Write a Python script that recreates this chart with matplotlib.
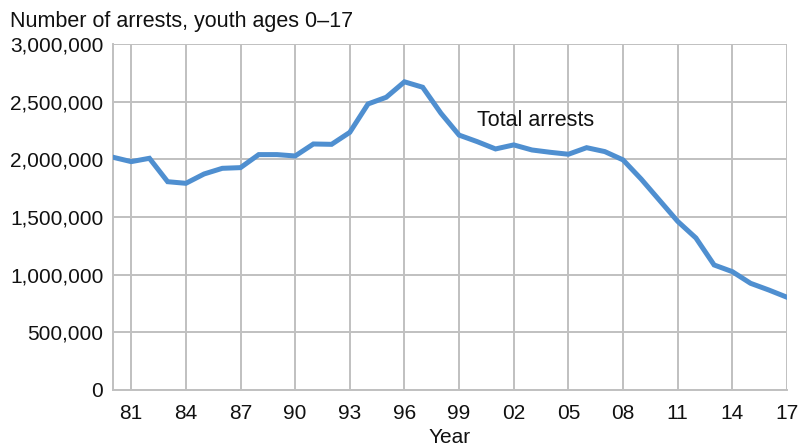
import numpy as np
import matplotlib.pyplot as plt
from matplotlib.ticker import FuncFormatter

plt.rcParams['font.family'] = ['Liberation Sans', 'DejaVu Sans']

# Data
years = np.arange(1980, 2018)
arrests = [2018000, 1980000, 2009000, 1806000, 1792000, 1873000, 1922000, 1928000,
           2041000, 2041000, 2029000, 2133000, 2130000, 2234000, 2480000, 2538000,
           2672000, 2625000, 2400000, 2210000, 2153000, 2090000, 2125000, 2081000,
           2061000, 2044000, 2101000, 2067000, 1995000, 1828000, 1645000, 1462000,
           1318000, 1084000, 1026000, 925000, 867000, 804000]
tick_years = [1981, 1984, 1987, 1990, 1993, 1996, 1999, 2002, 2005, 2008, 2011, 2014, 2017]
tick_labels = ['81', '84', '87', '90', '93', '96', '99', '02', '05', '08', '11', '14', '17']
y_ticks = [0, 500000, 1000000, 1500000, 2000000, 2500000, 3000000]

grid_col = '#c0c0c0'
line_col = '#4f8fd0'

fig = plt.figure(figsize=(7.98, 4.48), dpi=100)
ax = fig.add_axes([0.1416, 0.1295, 0.8446, 0.7723])

ax.plot(years, arrests, color=line_col, linewidth=3.6, solid_joinstyle='miter', zorder=3)

ax.set_xlim(1980, 2017)
ax.set_ylim(0, 3000000)
ax.set_xticks(tick_years)
ax.set_xticklabels(tick_labels)
ax.set_yticks(y_ticks)
ax.yaxis.set_major_formatter(FuncFormatter(lambda v, p: f'{int(v):,}'))

ax.grid(True, color=grid_col, linewidth=1.4)
ax.set_axisbelow(True)
for s in ['top', 'right']:
    ax.spines[s].set_visible(False)
for s in ['left', 'bottom']:
    ax.spines[s].set_color(grid_col)
    ax.spines[s].set_linewidth(1.4)

ax.tick_params(axis='both', length=0, labelsize=15, colors='#111111')
ax.tick_params(axis='y', pad=7)
ax.tick_params(axis='x', pad=10)

ax.text(2000.0, 2335000, 'Total arrests', fontsize=15.5, color='#111111', va='center', ha='left')

fig.text(0.012, 0.953, 'Number of arrests, youth ages 0\u201317', fontsize=15.5,
         color='#111111', va='center', ha='left')
ax.set_xlabel('Year', fontsize=15, color='#111111', labelpad=4)

fig.savefig('out.png', dpi=100)
